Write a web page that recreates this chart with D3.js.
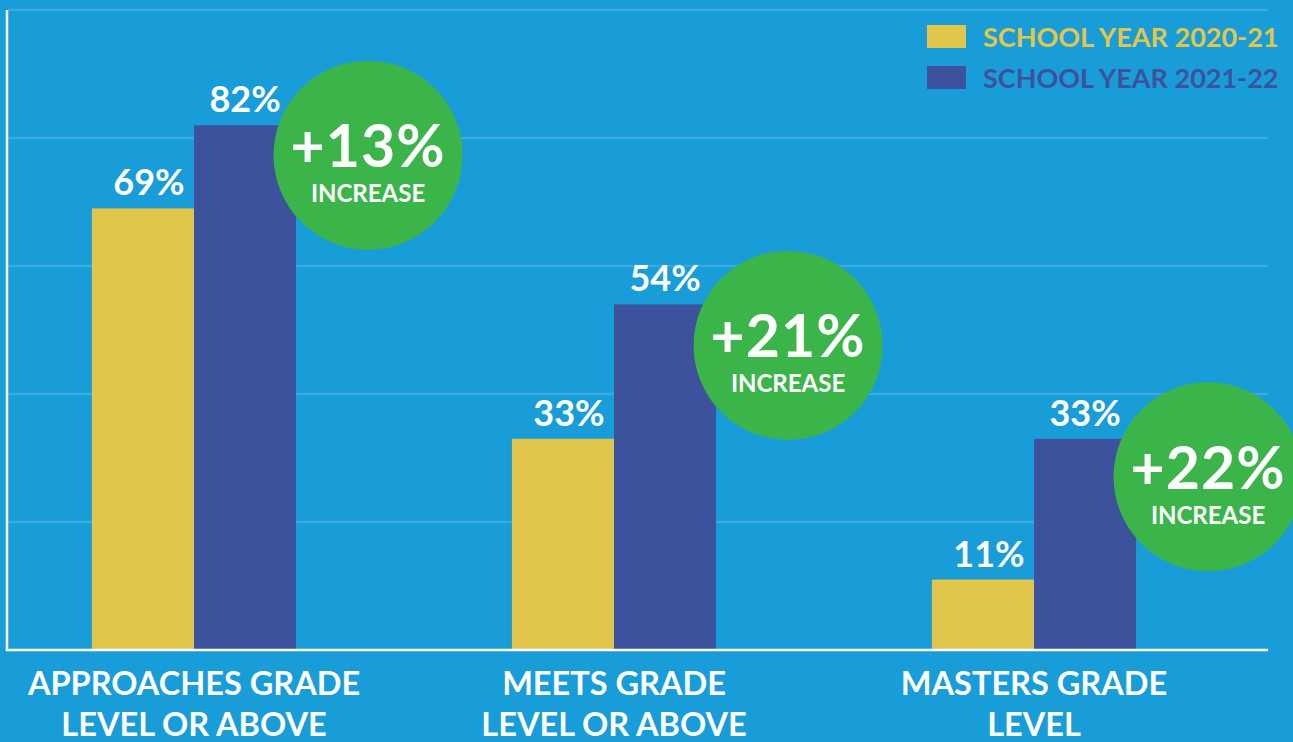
<!DOCTYPE html>
<html lang="en">
<head>
<meta charset="utf-8">
<title>School year comparison</title>
<script src="https://d3js.org/d3.v7.min.js"></script>
<style>
  html, body { margin: 0; padding: 0; background: #199dd9; }
  svg { display: block; }
  text { font-family: "Lato", "Open Sans", sans-serif; font-weight: 700; }
</style>
</head>
<body>
<script>
// data
var categories = [["APPROACHES GRADE", "LEVEL OR ABOVE"], ["MEETS GRADE", "LEVEL OR ABOVE"], ["MASTERS GRADE", "LEVEL"]];
var seriesNames = ["SCHOOL YEAR 2020-21", "SCHOOL YEAR 2021-22"];
var year2021 = [69, 33, 11];
var year2122 = [82, 54, 33];
var increases = ["+13%", "+21%", "+22%"];
var gridTicks = [20, 40, 60, 80, 100];

var width = 1293, height = 742;
var colors = ["#e1c64b", "#3d529c"];
// vertical nudge of each badge below its bar top
var badgeDy = [30, 41, 38];

var svg = d3.select("body").append("svg")
  .attr("width", width)
  .attr("height", height);

svg.append("rect").attr("width", width).attr("height", height).attr("fill", "#199dd9");

var keys = categories.map(function(d) { return d.join(" "); });

var x0 = d3.scaleBand()
  .domain(keys)
  .range([-16, 1244])
  .paddingInner(0.514)
  .paddingOuter(0.257);

var x1 = d3.scaleBand()
  .domain([0, 1])
  .range([0, x0.bandwidth()]);

var y = d3.scaleLinear()
  .domain([0, 100])
  .range([650, 10]);

// gridlines
svg.append("g")
  .selectAll("line")
  .data(gridTicks)
  .enter()
  .append("line")
  .attr("x1", 8)
  .attr("x2", 1268)
  .attr("y1", function(d) { return y(d); })
  .attr("y2", function(d) { return y(d); })
  .attr("stroke", "#3aa9e0")
  .attr("stroke-width", 2.5);

var rows = keys.map(function(k, i) {
  return { key: k, values: [year2021[i], year2122[i]], inc: increases[i], lines: categories[i], dy: badgeDy[i] };
});

// bars
var groups = svg.append("g")
  .selectAll("g")
  .data(rows)
  .enter()
  .append("g")
  .attr("transform", function(d) { return "translate(" + x0(d.key) + ",0)"; });

groups.selectAll("rect")
  .data(function(d) { return d.values; })
  .enter()
  .append("rect")
  .attr("x", function(d, i) { return x1(i); })
  .attr("y", function(d) { return y(d); })
  .attr("width", x1.bandwidth())
  .attr("height", function(d) { return y(0) - y(d); })
  .attr("fill", function(d, i) { return colors[i]; });

groups.selectAll("text.val")
  .data(function(d) { return d.values; })
  .enter()
  .append("text")
  .attr("class", "val")
  .attr("x", function(d, i) { return x1(i) + x1.bandwidth() / 2 + (i === 0 ? 6 : 0); })
  .attr("y", function(d) { return y(d) - 13; })
  .attr("text-anchor", "middle")
  .attr("font-size", "36px")
  .attr("fill", "#fff")
  .text(function(d) { return d + "%"; });

// axes lines
svg.append("line")
  .attr("x1", 7).attr("x2", 7)
  .attr("y1", y(100)).attr("y2", y(0) + 1)
  .attr("stroke", "#fff").attr("stroke-width", 2.5);
svg.append("line")
  .attr("x1", 6).attr("x2", 1268)
  .attr("y1", y(0)).attr("y2", y(0))
  .attr("stroke", "#fff").attr("stroke-width", 2.5);

// increase badges
var badges = groups.append("g")
  .attr("transform", function(d) {
    return "translate(" + (x1(1) + x1.bandwidth() + 72) + "," + (y(d.values[1]) + d.dy) + ")";
  });

badges.append("circle")
  .attr("r", 94.5)
  .attr("fill", "#3bb54a");

badges.append("text")
  .attr("y", 12)
  .attr("text-anchor", "middle")
  .attr("font-size", "59px")
  .attr("letter-spacing", "1px")
  .attr("fill", "#fff")
  .text(function(d) { return d.inc; });

badges.append("text")
  .attr("y", 47)
  .attr("text-anchor", "middle")
  .attr("font-size", "24px")
  .attr("fill", "#fff")
  .text("INCREASE");

// category labels
var labels = groups.append("text")
  .attr("text-anchor", "middle")
  .attr("font-size", "32.5px")
  .attr("fill", "#fff");

labels.selectAll("tspan")
  .data(function(d) { return d.lines; })
  .enter()
  .append("tspan")
  .attr("x", x0.bandwidth() / 2)
  .attr("y", function(d, i) { return 695 + i * 41; })
  .text(function(d) { return d; });

// legend
var legend = svg.append("g")
  .selectAll("g")
  .data(seriesNames)
  .enter()
  .append("g")
  .attr("transform", function(d, i) { return "translate(927," + (25 + i * 41) + ")"; });

legend.append("rect")
  .attr("width", 39)
  .attr("height", 23)
  .attr("fill", function(d, i) { return colors[i]; });

legend.append("text")
  .attr("x", 56)
  .attr("y", 22)
  .attr("font-size", "27px")
  .attr("fill", function(d, i) { return colors[i]; })
  .text(function(d) { return d; });
</script>
</body>
</html>
